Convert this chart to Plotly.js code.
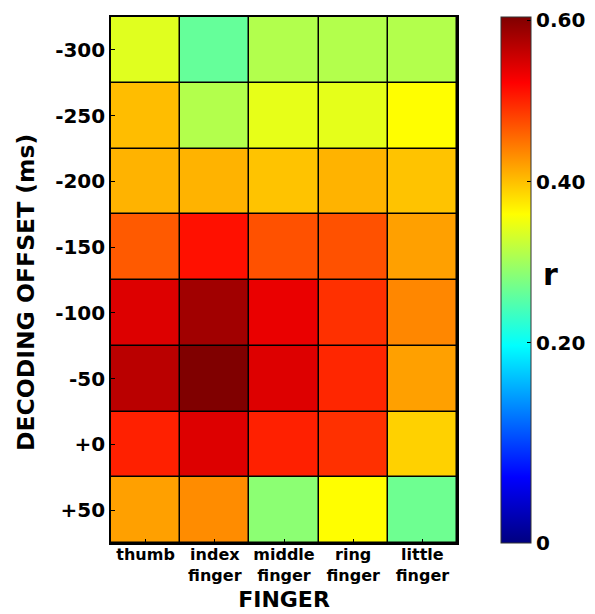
<!DOCTYPE html>
<html>
<head>
<meta charset="utf-8">
<script src="https://cdn.plot.ly/plotly-3.0.1.min.js"></script>
<style>html,body{margin:0;padding:0;background:#fff;}#chart{width:595px;height:614px;}</style>
</head>
<body>
<div id="chart"></div>
<script>
// Categories
const fingers = ['thumb', 'index finger', 'middle finger', 'ring finger', 'little finger'];
const fingerLabels = ['thumb', 'index<br>finger', 'middle<br>finger', 'ring<br>finger', 'little<br>finger'];
const offsets = ['-300', '-250', '-200', '-150', '-100', '-50', '+0', '+50'];

// Decoding correlation r per finger (values for offsets -300 ... +50)
const thumb  = [0.340, 0.402, 0.408, 0.465, 0.544, 0.567, 0.502, 0.420];
const index  = [0.261, 0.311, 0.408, 0.512, 0.583, 0.604, 0.544, 0.433];
const middle = [0.310, 0.344, 0.398, 0.471, 0.536, 0.544, 0.502, 0.286];
const ring   = [0.311, 0.343, 0.408, 0.471, 0.492, 0.498, 0.492, 0.360];
const little = [0.311, 0.360, 0.398, 0.420, 0.436, 0.420, 0.389, 0.267];

// Colour range and colorbar ticks (bottom end of the bar is labelled "0" in the original)
const colorMin = -0.048;
const colorMax = 0.604;
const cbTickVals = [-0.048, 0.2, 0.4, 0.6];
const cbTickText = ['0', '0.20', '0.40', '0.60'];

const series = [thumb, index, middle, ring, little];
const z = offsets.map((_, i) => series.map(s => s[i]));

const jet = [
  [0, 'rgb(0,0,128)'],
  [0.125, 'rgb(0,0,255)'],
  [0.375, 'rgb(0,255,255)'],
  [0.625, 'rgb(255,255,0)'],
  [0.875, 'rgb(255,0,0)'],
  [1, 'rgb(128,0,0)']
];

const F = 'DejaVu Sans, Verdana, sans-serif';

const trace = {
  type: 'heatmap',
  x: fingers,
  y: offsets,
  z: z,
  zmin: colorMin,
  zmax: colorMax,
  colorscale: jet,
  xgap: 1.5,
  ygap: 1.5,
  colorbar: {
    xref: 'container',
    x: 501 / 595,
    xanchor: 'left',
    xpad: 0,
    y: 0.5,
    yanchor: 'middle',
    ypad: 0,
    len: 1.0,
    lenmode: 'fraction',
    thickness: 30,
    thicknessmode: 'pixels',
    outlinewidth: 1,
    outlinecolor: '#333',
    tickmode: 'array',
    tickvals: cbTickVals,
    ticktext: cbTickText,
    ticks: 'inside',
    ticklen: 4,
    tickcolor: '#000',
    tickfont: {family: F, size: 20, color: '#000', weight: 'bold'}
  }
};

const layout = {
  width: 595,
  height: 614,
  margin: {l: 111, r: 138, t: 17, b: 71},
  paper_bgcolor: '#fff',
  plot_bgcolor: '#000',
  xaxis: {
    type: 'category',
    tickmode: 'array',
    tickvals: fingers,
    ticktext: fingerLabels,
    ticks: 'inside',
    ticklen: 4,
    tickcolor: '#000',
    ticklabelstandoff: -4,
    showline: true,
    mirror: true,
    linecolor: '#000',
    linewidth: 1.8,
    showgrid: false,
    zeroline: false,
    automargin: false,
    tickfont: {family: F, size: 16, color: '#000', weight: 'bold'},
    title: {text: 'FINGER', standoff: 8, font: {family: F, size: 22, color: '#000', weight: 'bold'}}
  },
  yaxis: {
    type: 'category',
    autorange: 'reversed',
    ticks: 'inside',
    ticklen: 4,
    tickcolor: '#000',
    showline: true,
    mirror: true,
    linecolor: '#000',
    linewidth: 1.8,
    showgrid: false,
    zeroline: false,
    automargin: false,
    tickfont: {family: F, size: 20, color: '#000', weight: 'bold'}
  },
  annotations: [
    {
      text: 'r', xref: 'paper', yref: 'paper', x: 1.27, y: 0.51,
      xanchor: 'center', yanchor: 'middle', showarrow: false,
      font: {family: F, size: 30, color: '#000', weight: 'bold'}
    },
    {
      text: 'DECODING OFFSET (ms)', xref: 'paper', yref: 'paper',
      x: -0.2457, y: 0.477, xanchor: 'center', yanchor: 'middle',
      textangle: -90, showarrow: false,
      font: {family: F, size: 23.5, color: '#000', weight: 'bold'}
    }
  ],
  showlegend: false
};

Plotly.newPlot('chart', [trace], layout, {displayModeBar: false, staticPlot: true});
</script>
</body>
</html>
